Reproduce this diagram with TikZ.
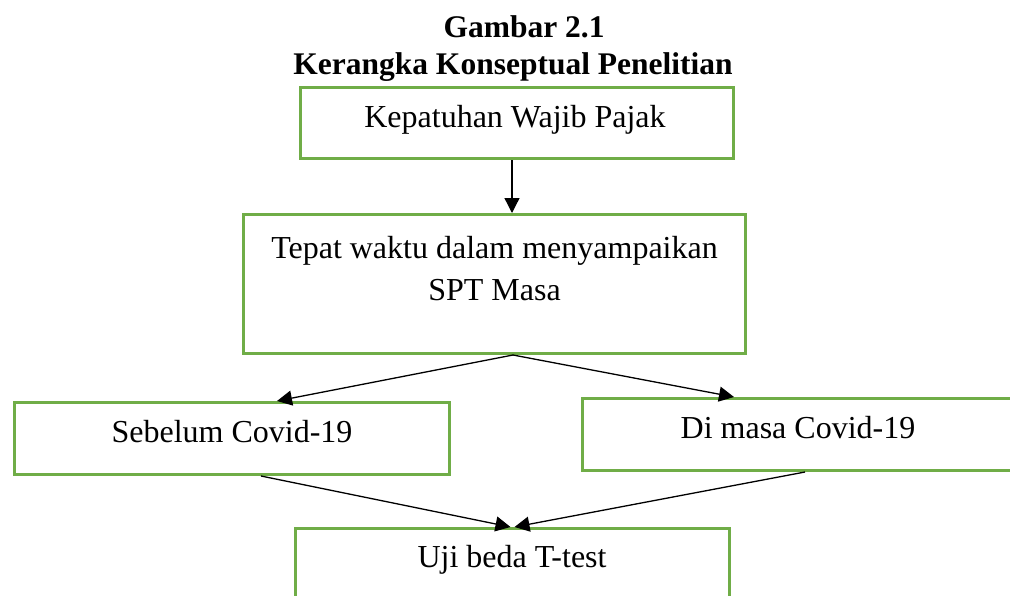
\documentclass[tikz,border=0pt]{standalone}
\usepackage{fontspec}
\setmainfont{Liberation Serif}
\usetikzlibrary{arrows.meta,calc}
\definecolor{boxgreen}{HTML}{70AD47}
\begin{document}
\begin{tikzpicture}[x=1pt,y=-1pt,
  box/.style={draw=boxgreen,line width=3pt,rectangle,inner sep=0pt},
  txt/.style={anchor=base,inner sep=0pt,font=\fontsize{32}{36}\selectfont},
  ttl/.style={anchor=base,inner sep=0pt,font=\fontsize{31.5}{36}\selectfont\bfseries},
  arr/.style={draw=black,line width=1.3pt,-{Triangle[length=15pt,width=15pt]}}]
\useasboundingbox (0,0) rectangle (1010,595);
% title
\node[ttl] (t1) at (524,37) {Gambar 2.1};
\node[ttl] (t2) at (513,74) {Kerangka Konseptual Penelitian};
% boxes
\node[box,minimum width=433pt,minimum height=71pt] (b1) at (517,123) {};
\node[box,minimum width=502pt,minimum height=139pt] (b2) at (494.5,284) {};
\node[box,minimum width=435pt,minimum height=72pt] (b3) at (232,438.5) {};
\node[box,minimum width=451pt,minimum height=72pt] (b4) at (808,434.5) {};
\node[box,minimum width=434pt,minimum height=100pt] (b5) at (512.5,578.5) {};
% texts
\node[txt] (l1) at (515,127) {Kepatuhan Wajib Pajak};
\node[txt] (l2a) at (494.5,258) {Tepat waktu dalam menyampaikan};
\node[txt] (l2b) at (494.5,300) {SPT Masa};
\node[txt] (l3) at (232,442) {Sebelum Covid-19};
\node[txt] (l4) at (798,438) {Di masa Covid-19};
\node[txt] (l5) at (512,567) {Uji beda T-test};
% connectors
\coordinate (c1) at ($(b1.south)+(-5,0)$);
\draw[arr] (c1) -- (c1 |- b2.north);
\coordinate (c2) at ($(b2.south)+(18.5,0)$);
\draw[arr] (c2) -- ($(b3.north)+(45,0)$);
\draw[arr] (c2) -- ($(b4.north)+(-74,0)$);
\draw[arr] ($(b3.south)+(29,0)$) -- ($(b5.north)+(-2,0)$);
\draw[arr] ($(b4.south)+(-3,0)$) -- ($(b5.north)+(2,0)$);
\end{tikzpicture}
\end{document}
